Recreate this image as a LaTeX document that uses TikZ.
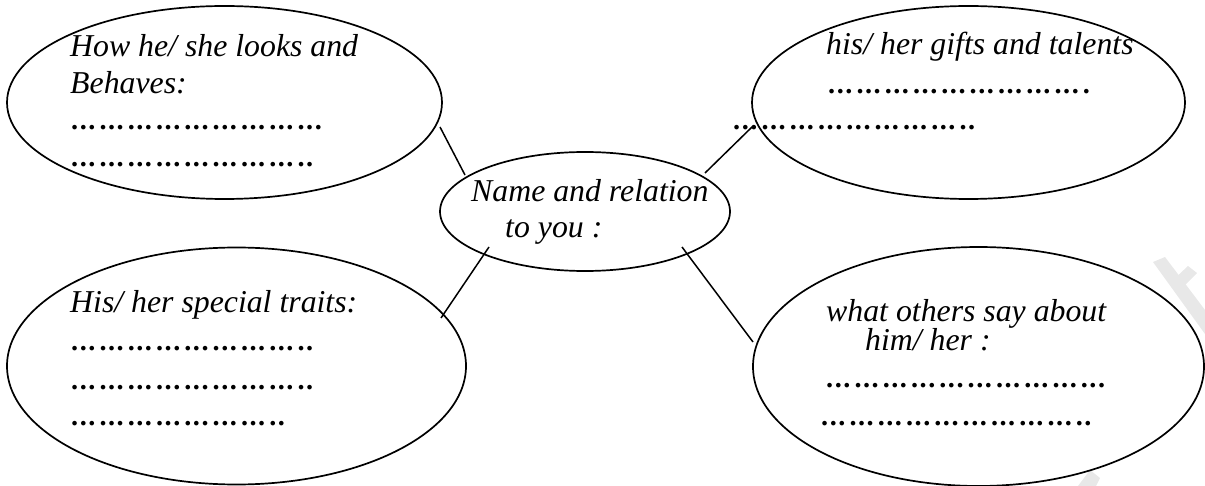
\documentclass[tikz,border=0pt]{standalone}
\usepackage{fontspec}
\setmainfont{Liberation Serif}
\usetikzlibrary{shapes.geometric}
\newcommand\dgrp{\makebox[28.3pt][l]{.\kern1.5pt.\kern1.5pt.}}
\newcommand\dgrpiii{\dgrp\dgrp\dgrp}
\newcommand\dpt{\makebox[8.6pt][l]{.}}
\tikzset{
  bubble/.style={ellipse, draw=black, line width=1.7pt, inner sep=0pt},
  link/.style={draw=black, line width=1.5pt},
  lbl/.style={anchor=base west, inner sep=0pt, font=\fontsize{31.8}{37}\selectfont\itshape},
  dots/.style={anchor=base west, inner sep=0pt, font=\fontsize{28.3}{34}\selectfont\bfseries},
  wmark/.style={fill=black!9, draw=none}
}
\begin{document}
\begin{tikzpicture}[x=1pt,y=-1pt]
\useasboundingbox (0,0) rectangle (1205,486);
% faint watermark
\fill[wmark] (1153,262) -- (1165,257) -- (1205,310) -- (1205,334) -- cycle;
\fill[wmark] (1188,266) -- (1197,273) -- (1178,292) -- (1171,282) -- cycle;
\fill[wmark] (1078,486) -- (1090,470) -- (1100,478) -- (1096,486) -- cycle;
% bubbles
\node[bubble, minimum width=435pt, minimum height=193pt] (tl) at (224.5,102.5) {};
\node[bubble, minimum width=433pt, minimum height=193pt] (tr) at (968.5,102.5) {};
\node[bubble, minimum width=459pt, minimum height=237pt] (bl) at (236.5,366) {};
\node[bubble, minimum width=451pt, minimum height=239pt] (br) at (978.5,366.5) {};
\node[bubble, minimum width=290pt, minimum height=119pt] (c) at (585,211.5) {};
% connector ends
\coordinate (tlA) at (440,127); \coordinate (tlB) at (465,175);
\coordinate (trA) at (705,173); \coordinate (trB) at (752,127);
\coordinate (blA) at (489,247); \coordinate (blB) at (441,318);
\coordinate (brA) at (682,247); \coordinate (brB) at (753,342);
\draw[link] (tlA) -- (tlB);
\draw[link] (trA) -- (trB);
\draw[link] (blA) -- (blB);
\draw[link] (brA) -- (brB);
% texts: top left
\node[lbl] (t1) at (70,57) {How he/ she looks and};
\node[lbl] (t2) at (70,94) {Behaves:};
\node[dots] (t3) at (71,130) {\dgrpiii\dgrpiii\dgrpiii};
\node[dots] (t4) at (71,167) {\dgrpiii\dgrpiii\dgrp\dgrp\dpt\dpt};
% top right
\node[lbl] (r1) at (826,55) {his/ her gifts and talents};
\node[dots] (r2) at (828,94) {\dgrpiii\dgrpiii\dgrpiii\dpt};
\node[dots] (r3) at (733,130) {\dgrpiii\dgrpiii\dgrp\dgrp\dpt\dpt};
% centre
\node[lbl] (c1) at (471,202) {Name and relation};
\node[lbl] (c2) at (505,238) {to you :};
% bottom left
\node[lbl] (b1) at (70,313) {His/ her special traits:};
\node[dots] (b2) at (71,351) {\dgrpiii\dgrpiii\dgrp\dgrp\dpt\dpt};
\node[dots] (b3) at (71,389) {\dgrpiii\dgrpiii\dgrp\dgrp\dpt\dpt};
\node[dots] (b4) at (71,425) {\dgrpiii\dgrpiii\dgrp\dpt\dpt};
% bottom right
\node[lbl] (s1) at (826,322) {what others say about};
\node[lbl] (s2) at (865,351) {him/ her :};
\node[dots] (s3) at (826,387) {\dgrpiii\dgrpiii\dgrpiii\dgrp};
\node[dots] (s4) at (821,425) {\dgrpiii\dgrpiii\dgrpiii\dpt\dpt};
\end{tikzpicture}
\end{document}
